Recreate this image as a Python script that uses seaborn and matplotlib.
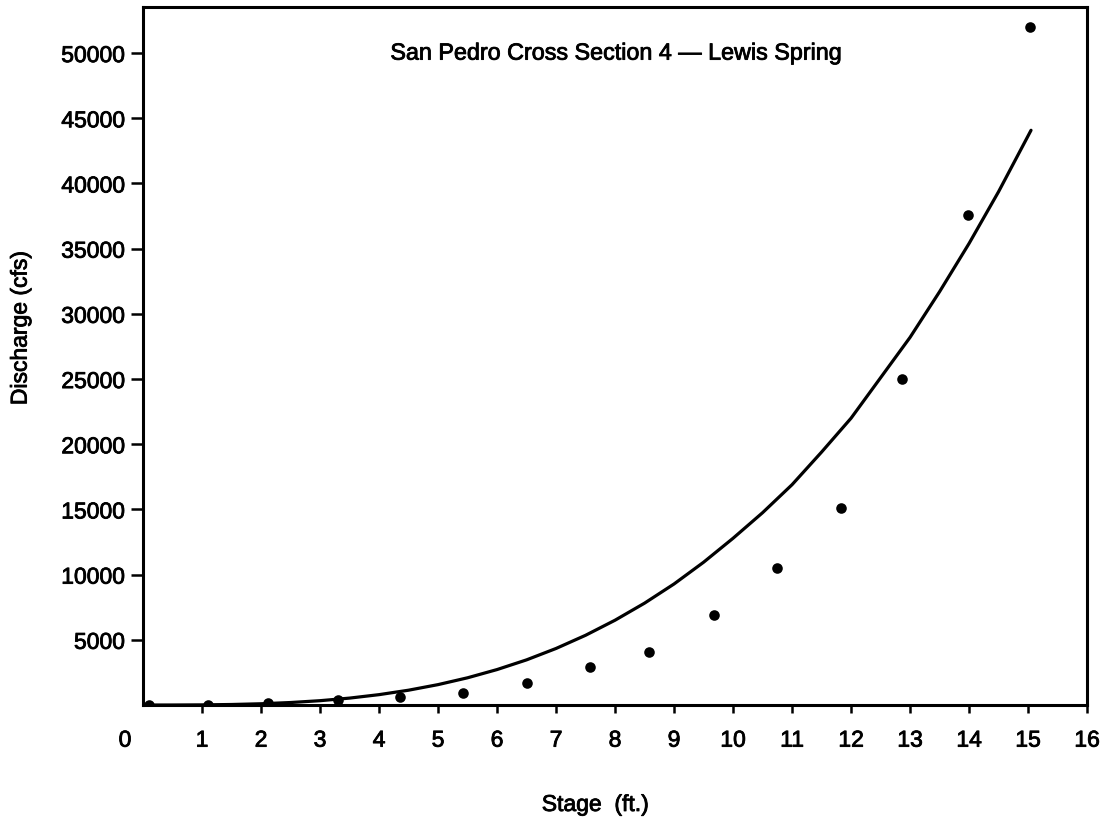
import numpy as np
import pandas as pd
import matplotlib
matplotlib.use("Agg")
import matplotlib.pyplot as plt
import matplotlib.patheffects as pe
from matplotlib.transforms import ScaledTranslation
import seaborn as sns

# Measured stage / discharge pairs
stage_obs = [0.1, 1.1, 2.12, 3.3, 4.35, 5.43, 6.5, 7.57, 8.58, 9.68, 10.75, 11.83, 12.87, 13.98, 15.03]
discharge_obs = [20, 40, 150, 350, 650, 900, 1700, 2950, 4100, 6900, 10500, 15100, 25000, 37600, 52000]

# Fitted rating curve
stage_fit = [0, 0.5, 1, 1.5, 2, 2.5, 3, 3.5, 4, 4.5, 5, 5.5, 6, 6.5, 7, 7.5, 8,
             8.5, 9, 9.5, 10, 10.5, 11, 11.5, 12, 12.5, 13, 13.5, 14, 14.5, 15, 15.05]
discharge_fit = [0, 2, 12, 41, 97, 192, 333, 531, 796, 1137, 1565, 2089, 2720,
                 3463, 4338, 5348, 6505, 7813, 9285, 10950, 12790, 14750, 16900,
                 19400, 22000, 25100, 28200, 31700, 35400, 39370, 43650, 44080]

x_ticks = list(range(0, 17))
y_ticks = [5000, 10000, 15000, 20000, 25000, 30000, 35000, 40000, 45000, 50000]

title = "San Pedro Cross Section 4 \u2014 Lewis Spring"
x_label = "Stage  (ft.)"
y_label = "Discharge (cfs)"

sns.set_theme(style="ticks")
plt.rcParams["font.family"] = ["Liberation Sans", "DejaVu Sans"]

obs = pd.DataFrame({"stage": stage_obs, "discharge": discharge_obs})
fit = pd.DataFrame({"stage": stage_fit, "discharge": discharge_fit})

fig = plt.figure(figsize=(11.07, 8.22), dpi=100)
ax = fig.add_axes([0.1292, 0.1423, 0.8528, 0.8491])

sns.lineplot(data=fit, x="stage", y="discharge", ax=ax, color="black",
             linewidth=2.3, sort=True, estimator=None)
sns.scatterplot(data=obs, x="stage", y="discharge", ax=ax, color="black",
                s=58, edgecolor="black", linewidth=0, zorder=3)

ax.set_xlim(0, 16)
ax.set_ylim(0, 53530)
ax.set_xticks(x_ticks)
ax.set_xticklabels([str(t) for t in x_ticks])
ax.set_yticks(y_ticks)
ax.set_yticklabels([str(t) for t in y_ticks])

ax.tick_params(axis="x", direction="out", length=6, width=1.8, pad=11,
               labelsize=16.5, colors="black")
ax.tick_params(axis="y", direction="out", length=9, width=1.8, pad=4,
               labelsize=16.5, colors="black")

# the origin label sits left of the corner, with no tick mark
first = ax.xaxis.get_major_ticks()[0]
first.tick1line.set_visible(False)
first.label1.set_transform(first.label1.get_transform() +
                           ScaledTranslation(-0.18, 0, fig.dpi_scale_trans))

for side in ["left", "bottom", "top", "right"]:
    ax.spines[side].set_visible(True)
    ax.spines[side].set_color("black")
    ax.spines[side].set_linewidth(2.2)

ax.set_xlabel(x_label, fontsize=16.5, color="black")
ax.set_ylabel(y_label, fontsize=16.5, color="black")
ax.xaxis.set_label_coords(0.479, -0.126)
ax.yaxis.set_label_coords(-0.118, 0.54)

ax.text(0.502, 0.934, title, transform=ax.transAxes, ha="center", va="center",
        fontsize=16.8, color="black")

# heavier strokes for all text
stroke = [pe.withStroke(linewidth=0.6, foreground="black")]
for t in (ax.get_xticklabels() + ax.get_yticklabels() +
          [ax.xaxis.label, ax.yaxis.label] + ax.texts):
    t.set_path_effects(stroke)

fig.savefig("out.png", dpi=100, facecolor="white")
